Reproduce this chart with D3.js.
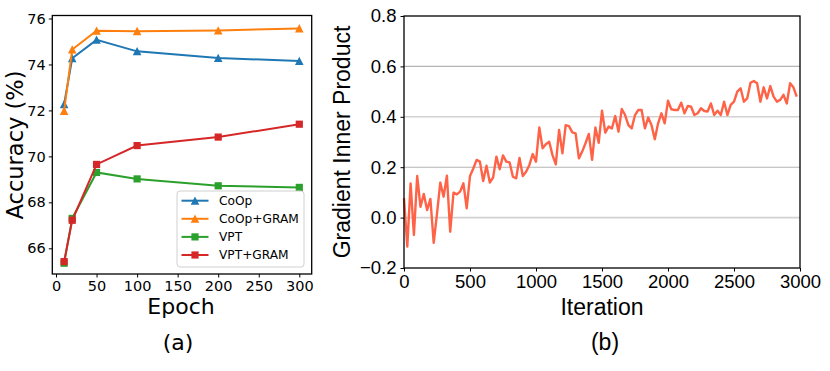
<!DOCTYPE html>
<html><head><meta charset="utf-8">
<script src="https://cdn.jsdelivr.net/npm/d3@7"></script>
<style>body{margin:0;background:#fff}</style>
</head><body>
<svg id="c" width="830" height="371"></svg>
<script>
// ---------- data (a) ----------
const epochs = [10, 20, 50, 100, 200, 300];
const coop      = [72.27, 74.27, 75.07, 74.57, 74.28, 74.15];
const coopGram  = [71.98, 74.65, 75.47, 75.45, 75.48, 75.57];
const vpt       = [65.35, 67.30, 69.30, 69.02, 68.72, 68.65];
const vptGram   = [65.42, 67.22, 69.65, 70.47, 70.84, 71.40];
const seriesNames  = ["CoOp", "CoOp+GRAM", "VPT", "VPT+GRAM"];
const seriesColors = ["#1f77b4", "#ff7f0e", "#2ca02c", "#d62728"];
const seriesMarkers = ["tri", "tri", "sq", "sq"];
const xTicksA = [0, 50, 100, 150, 200, 250, 300];
const yTicksA = [66, 68, 70, 72, 74, 76];

// ---------- data (b) ----------
const iterStep = 25;
const gradIP = [
 0.077,-0.115,0.136,-0.069,0.165,0.043,0.094,0.030,0.074,-0.100,
 0.016,0.139,0.083,0.166,-0.056,0.099,0.092,0.103,0.136,0.037,
 0.165,0.195,0.229,0.222,0.145,0.206,0.139,0.159,0.242,0.192,
 0.247,0.222,0.219,0.162,0.156,0.237,0.165,0.182,0.209,0.252,
 0.222,0.358,0.275,0.291,0.301,0.248,0.211,0.348,0.255,0.367,
 0.363,0.338,0.334,0.235,0.262,0.295,0.332,0.229,0.358,0.297,
 0.424,0.337,0.361,0.354,0.403,0.341,0.431,0.407,0.367,0.354,
 0.407,0.427,0.427,0.354,0.397,0.367,0.311,0.374,0.414,0.374,
 0.464,0.430,0.427,0.427,0.456,0.414,0.443,0.440,0.407,0.414,
 0.434,0.423,0.421,0.453,0.407,0.424,0.407,0.460,0.407,0.447,
 0.460,0.500,0.513,0.460,0.473,0.535,0.542,0.533,0.460,0.517,
 0.473,0.522,0.480,0.460,0.467,0.487,0.453,0.533,0.517,0.480
];
const xTicksB = [0, 500, 1000, 1500, 2000, 2500, 3000];
const yTicksB = [-0.2, 0.0, 0.2, 0.4, 0.6, 0.8];
const gridB = [0.6, 0.4, 0.2, 0.0];

const svg = d3.select("#c");
svg.append("rect").attr("width",830).attr("height",371).attr("fill","#fff");

// ================= Panel (a) =================
const fA = "DejaVu Sans";
const A = {l:52.3, r:311.7, t:15.5, b:274};
const xA = d3.scaleLinear().domain([0,300]).range([56,299.3]);
const yA = d3.scaleLinear().domain([66,76]).range([248.3,18.5]);

const gA = svg.append("g");
const axA_x = gA.append("g").attr("transform",`translate(0,${A.b})`)
  .call(d3.axisBottom(xA).tickValues(xTicksA).tickSize(3.5).tickSizeOuter(0).tickPadding(3));
const axA_y = gA.append("g").attr("transform",`translate(${A.l},0)`)
  .call(d3.axisLeft(yA).tickValues(yTicksA).tickSize(3.5).tickSizeOuter(0).tickPadding(3));
[axA_x, axA_y].forEach(a=>{
  a.select(".domain").remove();
  a.selectAll("text").attr("font-family",fA).attr("font-size",14.5).attr("fill","#000");
  a.selectAll("line").attr("stroke","#000").attr("stroke-width",1);
});
axA_x.selectAll("text").attr("dy","0.75em");

const lineA = d3.line().x((d,i)=>xA(epochs[i])).y(d=>yA(d));
const triPath = "M0,-4.3L4.3,4L-4.3,4Z";
const sqPath = "M-3.6,-3.6H3.6V3.6H-3.6Z";
[coop, coopGram, vpt, vptGram].forEach((vals,k)=>{
  const g = gA.append("g");
  g.append("path").attr("d",lineA(vals)).attr("fill","none")
    .attr("stroke",seriesColors[k]).attr("stroke-width",2);
  g.selectAll("path.m").data(vals).enter().append("path").attr("class","m")
    .attr("d", seriesMarkers[k]==="tri"?triPath:sqPath)
    .attr("transform",(d,i)=>`translate(${xA(epochs[i])},${yA(d)})`)
    .attr("fill",seriesColors[k]);
});
gA.append("rect").attr("x",A.l).attr("y",A.t).attr("width",A.r-A.l).attr("height",A.b-A.t)
  .attr("fill","none").attr("stroke","#000").attr("stroke-width",1.3);

// legend
const lg = gA.append("g");
lg.append("rect").attr("x",177).attr("y",191).attr("width",127).attr("height",76).attr("rx",3)
  .attr("fill","#fff").attr("fill-opacity",0.85).attr("stroke","#d0d0d0").attr("stroke-width",1);
seriesNames.forEach((n,k)=>{
  const yy = 200.7 + k*18.1;
  lg.append("line").attr("x1",181.5).attr("x2",208.5).attr("y1",yy).attr("y2",yy)
    .attr("stroke",seriesColors[k]).attr("stroke-width",2);
  lg.append("path").attr("d",seriesMarkers[k]==="tri"?triPath:sqPath)
    .attr("transform",`translate(195,${yy})`).attr("fill",seriesColors[k]);
  lg.append("text").attr("x",219).attr("y",yy).attr("dy","0.36em")
    .attr("font-family",fA).attr("font-size",12.2).attr("fill","#000").text(n);
});
gA.append("text").attr("x",181).attr("y",313.5).attr("text-anchor","middle")
  .attr("font-family",fA).attr("font-size",22).attr("fill","#000").text("Epoch");
gA.append("text").attr("transform",`translate(23,145) rotate(-90)`).attr("text-anchor","middle")
  .attr("font-family",fA).attr("font-size",22.5).attr("fill","#000").text("Accuracy (%)");
svg.append("text").attr("x",178).attr("y",350).attr("text-anchor","middle")
  .attr("font-family",fA).attr("font-size",22).attr("fill","#000").text("(a)");

// ================= Panel (b) =================
const fB = "Liberation Sans, Arial, sans-serif";
const B = {l:404, r:800, t:16, b:268};
const xB = d3.scaleLinear().domain([0,3000]).range([B.l,B.r]);
const yB = d3.scaleLinear().domain([-0.2,0.8]).range([B.b,B.t]);
const gB = svg.append("g");
gridB.forEach(v=>{
  const light = (v===0.4 || v===0.0);
  gB.append("line").attr("x1",B.l).attr("x2",B.r).attr("y1",yB(v)).attr("y2",yB(v))
    .attr("stroke", light?"#d2d2d2":"#b4b4b4").attr("stroke-width", light?1.6:1.1);
});
const fmt = v => (v<0?"\u2212":"") + Math.abs(v).toFixed(1);
const axB_x = gB.append("g").attr("transform",`translate(0,${B.b})`)
  .call(d3.axisBottom(xB).tickValues(xTicksB).tickFormat(d3.format("d")).tickSize(3.5).tickSizeOuter(0).tickPadding(3));
const axB_y = gB.append("g").attr("transform",`translate(${B.l},0)`)
  .call(d3.axisLeft(yB).tickValues(yTicksB).tickFormat(fmt).tickSize(3.5).tickSizeOuter(0).tickPadding(4));
[axB_x, axB_y].forEach(a=>{
  a.select(".domain").remove();
  a.selectAll("text").attr("font-family",fB).attr("font-size",18.5).attr("fill","#000");
  a.selectAll("line").attr("stroke","#000").attr("stroke-width",1);
});
axB_x.selectAll("text").attr("dy","0.72em");

const lineB = d3.line().x((d,i)=>xB(i*iterStep)).y(d=>yB(d));
gB.append("path").attr("d",lineB(gradIP)).attr("fill","none")
  .attr("stroke","#ff6347").attr("stroke-width",2.4).attr("stroke-linejoin","round");
gB.append("rect").attr("x",B.l).attr("y",B.t).attr("width",B.r-B.l).attr("height",B.b-B.t)
  .attr("fill","none").attr("stroke","#000").attr("stroke-width",1.3);

gB.append("text").attr("x",602).attr("y",315).attr("text-anchor","middle")
  .attr("font-family",fB).attr("font-size",23).attr("fill","#000").text("Iteration");
gB.append("text").attr("transform",`translate(349.5,142) rotate(-90)`).attr("text-anchor","middle")
  .attr("font-family",fB).attr("font-size",23).attr("fill","#000").text("Gradient Inner Product");
svg.append("text").attr("x",605).attr("y",350).attr("text-anchor","middle")
  .attr("font-family",fB).attr("font-size",23).attr("fill","#000").text("(b)");
</script>
</body></html>
